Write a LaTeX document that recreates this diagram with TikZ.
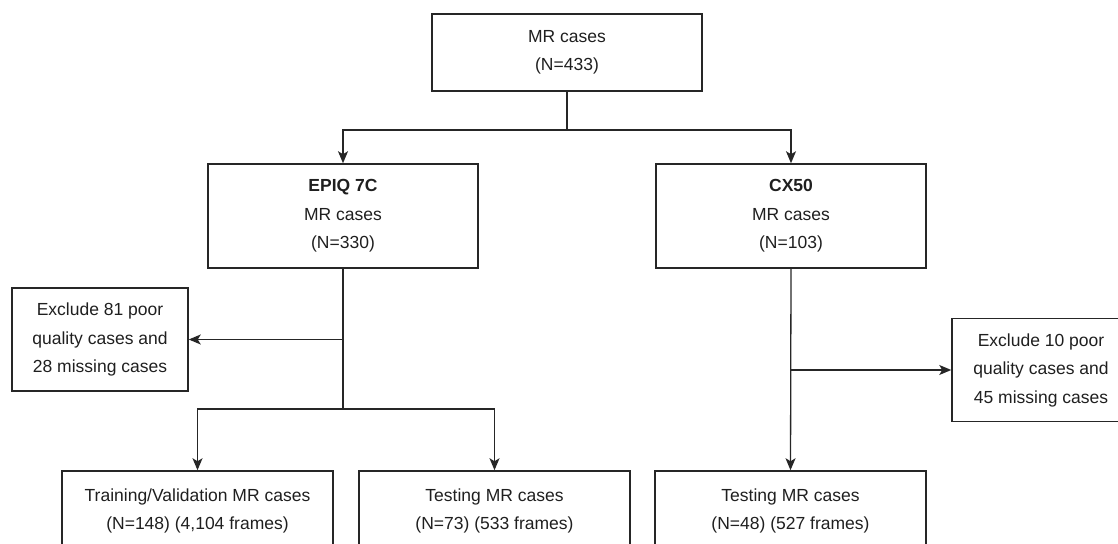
\documentclass[tikz,border=0pt]{standalone}
\usepackage{fontspec}
\setmainfont{Liberation Sans}
\usetikzlibrary{arrows.meta}
\begin{document}
\begin{tikzpicture}[x=0.5pt, y=-0.5pt,
      every node/.style = {font=\fontsize{8.75}{14.25}\selectfont, text=black!88},
      box/.style = {shape=rectangle, draw=black!85, line width=0.75pt, align=center, inner sep=0pt, minimum width=135pt},
      mainbox/.style = {box, minimum height=52pt},
      exclbox/.style = {box, minimum width=88pt, minimum height=51.5pt},
      leafbox/.style = {box, minimum width=135.5pt, minimum height=40pt},
      line/.style = {draw=black!85, line width=0.65pt},
      arrow/.style = {line, -{Stealth[length=6pt, width=5pt, inset=1.5pt]}}
      ]
      \useasboundingbox (0,0) rectangle (1118,544);
      \clip (0,0) rectangle (1118,544);
      % all cases and the two machines
      \node[box, minimum height=38.5pt] (all) at (567,52.5) {MR cases\\(N=433)};
      \node[mainbox] (epiq) at (343,216) {\textbf{EPIQ 7C}\\MR cases\\(N=330)};
      \node[mainbox] (cx) at (791,216) {\textbf{CX50}\\MR cases\\(N=103)};
      % excluded cases
      \node[exclbox] (exepiq) at (100,339.5) {Exclude 81 poor\\quality cases and\\28 missing cases};
      \node[exclbox, minimum width=89pt] (excx) at (1041,370) {Exclude 10 poor\\quality cases and\\45 missing cases};
      % final sets
      \node[leafbox] (train) at (197.5,511) {Training/Validation MR cases\\(N=148) (4,104 frames)};
      \node[leafbox] (test) at (494.5,511) {Testing MR cases\\(N=73) (533 frames)};
      \node[leafbox] (testcx) at (790.5,511) {Testing MR cases\\(N=48) (527 frames)};
      % connectors
      \coordinate (split) at (567,130);
      \coordinate (epiqsplit) at (343,409);
      \draw[line] (all.south) -- (split);
      \draw[arrow] (split) -| (epiq.north);
      \draw[arrow] (split) -| (cx.north);
      \draw[line] (epiq.south) -- (epiqsplit);
      \draw[arrow] (epiq.south |- exepiq.east) -- (exepiq.east);
      \draw[arrow] (epiqsplit) -| (train.north);
      \draw[arrow] (epiqsplit) -| (test.north);
      \draw[arrow] (cx.south) -- (testcx.north);
      \draw[arrow] (cx.south |- excx.west) -- (excx.west);
    \end{tikzpicture}
\end{document}
